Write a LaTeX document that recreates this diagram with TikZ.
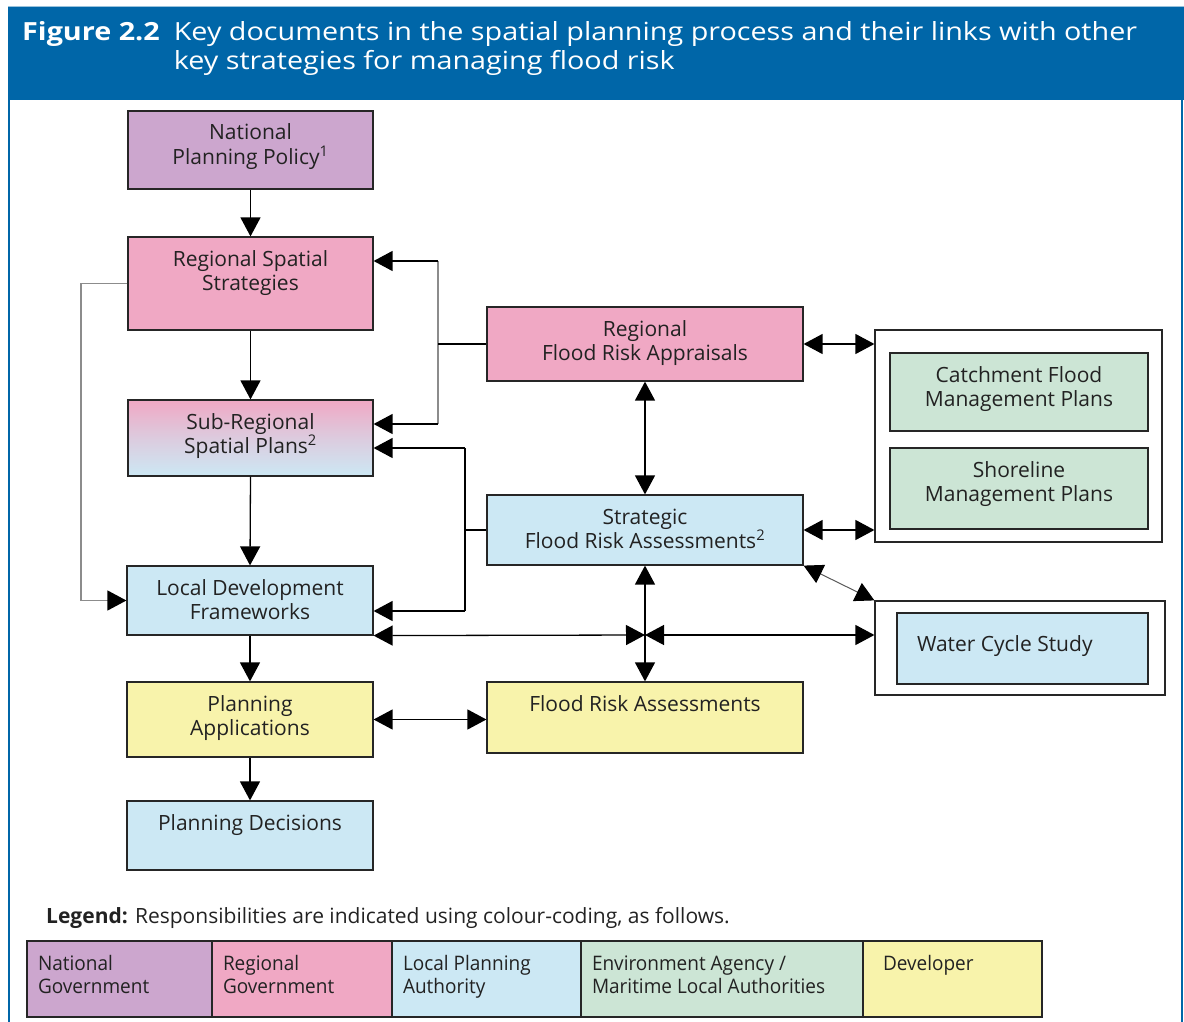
\documentclass[tikz,border=0pt]{standalone}
\usepackage{fontspec}
\setmainfont{Open Sans}
\newfontfamily\condfont[FakeStretch=0.95]{Open Sans}
\newfontfamily\widefont[FakeStretch=1.15]{Open Sans}
\usetikzlibrary{arrows.meta,calc}
\definecolor{hblue}{HTML}{0066A8}
\definecolor{cpur}{HTML}{CCA6CE}
\definecolor{cpink}{HTML}{F0A8C4}
\definecolor{cblue}{HTML}{CCE8F4}
\definecolor{cgreen}{HTML}{CCE5D5}
\definecolor{cyell}{HTML}{F8F3AB}
\definecolor{ink}{HTML}{222222}
\newcommand\bt[3]{\parbox[c][#2pt][t]{#1pt}{\centering\rule{0pt}{29pt}#3}}
\newcommand\lt[3]{\parbox[c][#2pt][t]{#1pt}{\raggedright\rule{0pt}{29pt}#3}}
\tikzset{
  box/.style={draw=black!85, line width=1.2pt, inner sep=0pt, text=ink,
    font=\fontsize{21}{24.5}\selectfont},
  holder/.style={draw=black!85, line width=1.2pt, fill=white, inner sep=0pt},
  cell/.style={draw=black!85, line width=1.2pt, inner sep=0pt, text=ink,
    font=\condfont\fontsize{20}{23}\selectfont},
  tipA/.tip={Triangle[length=19pt,width=20pt,color=black]},
  conn/.style={line width=1.3pt, draw=black},
  arr/.style={conn, -tipA},
  darr/.style={conn, tipA-tipA},
  gconn/.style={line width=1.3pt, draw=black!45},
  garr/.style={gconn, -tipA},
}
\begin{document}
\begin{tikzpicture}[x=1pt,y=-1pt]
\useasboundingbox (0,0) rectangle (1184,1022);
% frame and header
\draw[hblue!40, line width=0.8pt] (8,6) -- (1184,6);
\node[fill=hblue, minimum width=1176pt, minimum height=93pt, inner sep=0pt, anchor=north west] (hdr) at (8,7) {};
\draw[hblue, line width=1.5pt] (9,100) -- (9,1022);
\draw[hblue, line width=1.5pt] (1182,100) -- (1182,1022);
\node[anchor=base west, text=white, inner sep=0pt, font=\widefont\fontsize{25}{29}\selectfont] (ttl) at (22,41)
  {\begin{tabular}[t]{@{}l@{\hspace{14pt}}l@{}}\bfseries Figure 2.2 & Key documents in the spatial planning process and their links with other\\ & key strategies for managing flood risk\end{tabular}};

% left column
\node[box, fill=cpur, minimum width=245pt, minimum height=78pt] (npp) at (250.5,150) {\bt{243}{78}{National\\Planning Policy\textsuperscript{1}}};
\node[box, fill=cpink, minimum width=245pt, minimum height=93pt] (rss) at (250.5,283.5) {\bt{243}{93}{Regional Spatial\\Strategies}};
\node[box, top color=cpink, bottom color=cblue, middle color=cpink!45!cblue, minimum width=245pt, minimum height=76pt] (srsp) at (250.5,438) {\bt{243}{76}{Sub-Regional\\Spatial Plans\textsuperscript{2}}};
\node[box, fill=cblue, minimum width=246pt, minimum height=69pt] (ldf) at (250,600.5) {\bt{244}{69}{Local Development\\Frameworks}};
\node[box, fill=cyell, minimum width=246pt, minimum height=75pt] (pa) at (250,719.5) {\bt{244}{75}{Planning\\Applications}};
\node[box, fill=cblue, minimum width=246pt, minimum height=69pt] (pd) at (250,835.5) {\bt{244}{69}{Planning Decisions}};

% middle column
\node[box, fill=cpink, minimum width=316pt, minimum height=74pt] (rfra) at (645,344) {\bt{314}{74}{Regional\\Flood Risk Appraisals}};
\node[box, fill=cblue, minimum width=316pt, minimum height=70pt] (sfra) at (645,530) {\bt{314}{70}{Strategic\\Flood Risk Assessments\textsuperscript{2}}};
\node[box, fill=cyell, minimum width=316pt, minimum height=71pt] (fra) at (645,717.5) {\bt{314}{71}{Flood Risk Assessments}};

% right column
\node[holder, minimum width=287pt, minimum height=212pt] (outer) at (1018.5,436) {};
\node[box, fill=cgreen, minimum width=258pt, minimum height=78pt] (cfmp) at (1019,392) {\bt{256}{78}{Catchment Flood\\Management Plans}};
\node[box, fill=cgreen, minimum width=258pt, minimum height=81pt] (smp) at (1019,488.5) {\bt{256}{81}{Shoreline\\Management Plans}};
\node[holder, minimum width=290pt, minimum height=94pt] (wout) at (1020,648) {};
\node[box, fill=cblue, minimum width=251pt, minimum height=71pt] (wcs) at (1022.5,648.5) {\parbox[c][71pt][t]{211pt}{\raggedright\rule{0pt}{38pt}Water Cycle Study}};

% vertical flow
\draw[arr] (npp.south) -- (rss.north);
\draw[arr] (rss.south) -- (srsp.north);
\draw[arr] (srsp.south) -- (ldf.north);
\draw[arr] (ldf.south) -- (pa.north);
\draw[arr] (pa.south) -- (pd.north);

% grey link RSS -> LDF
\coordinate (gl) at (81,0);
\draw[garr] (rss.west) -- (rss.west -| gl) -- (ldf.west -| gl) -- (ldf.west);

% RFRA bracket
\coordinate (g1) at (438,261);
\coordinate (g2) at (438,424);
\coordinate (g3) at (438,344);
\draw[gconn] (g1) -- (g2);
\draw[conn] (rfra.west) -- (g3);
\draw[arr] (g1) -- (rss.east |- g1);
\draw[arr] (g2) -- (srsp.east |- g2);

% SFRA bracket
\coordinate (b1) at (465,448);
\coordinate (b2) at (465,611);
\coordinate (b3) at (465,530);
\draw[conn] (b1) -- (b2);
\draw[conn] (sfra.west) -- (b3);
\draw[arr] (b1) -- (srsp.east |- b1);
\draw[arr] (b2) -- (ldf.east |- b2);

% cross
\coordinate (cx) at (645,635);
\draw[darr] (ldf.south east) -- (cx);
\draw[darr] (cx) -- (wout.west |- cx);
\draw[darr] (sfra.south) -- (fra.north);
\draw[darr] (rfra.south) -- (sfra.north);
\draw[darr] (rfra.east) -- (outer.west |- rfra.east);
\draw[darr] (sfra.east) -- (outer.west |- sfra.east);
\draw[line width=1pt, draw=black!65, tipA-tipA] (sfra.south east) -- (wout.north west);
\draw[darr] (pa.east) -- (fra.west |- pa.east);

% legend
\node[anchor=base west, inner sep=0pt, text=ink, font=\fontsize{21}{24}\selectfont] (leg) at (46,923) {\textbf{Legend:} Responsibilities are indicated using colour-coding, as follows.};
\node[cell, fill=cpur, minimum width=185pt, minimum height=76pt] (lng) at (119.5,979) {\lt{163}{76}{National\\Government}};
\node[cell, fill=cpink, minimum width=180pt, minimum height=76pt] (lrg) at (302,979) {\lt{158}{76}{Regional\\Government}};
\node[cell, fill=cblue, minimum width=189pt, minimum height=76pt] (llpa) at (486.5,979) {\lt{167}{76}{Local Planning\\Authority}};
\node[cell, fill=cgreen, minimum width=282pt, minimum height=76pt] (lea) at (722,979) {\lt{260}{76}{Environment Agency /\\Maritime Local Authorities}};
\node[cell, fill=cyell, minimum width=179pt, minimum height=76pt] (ldev) at (952.5,979) {\lt{139}{76}{Developer}};
\end{tikzpicture}
\end{document}
